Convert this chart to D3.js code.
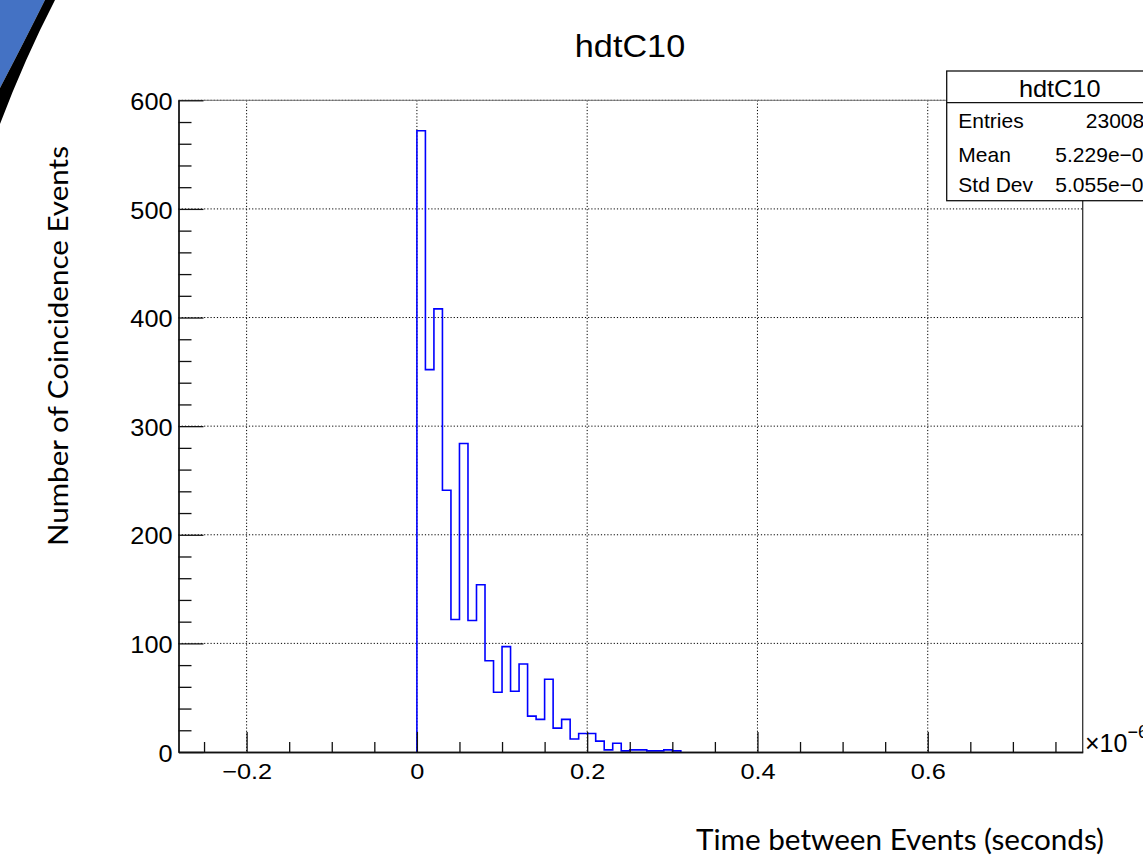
<!DOCTYPE html>
<html>
<head>
<meta charset="utf-8">
<script src="https://cdn.jsdelivr.net/npm/d3@7"></script>
<style>
  body { margin: 0; background: #fff; overflow: hidden; }
  svg { display: block; }
  .root-text { font-family: "Liberation Sans", Arial, Helvetica, sans-serif; fill: #000; }
  .slide-text { font-family: Lato, "Open Sans", sans-serif; fill: #000; }
  .axis path, .axis line { stroke: #111; stroke-width: 1.3; }
  .grid line { stroke: #000; stroke-width: 1; stroke-dasharray: 1.2,2; }
</style>
</head>
<body>
<svg></svg>
<script>
// histogram bins, x in units of 1e-6 s
let binStart = 0;
let binWidth = 0.01;
let counts = [572, 352, 408, 241, 122, 284, 121, 154, 84, 55, 97, 56, 81, 33, 30, 67,
  22, 30, 12, 17, 17, 10, 2, 8, 1, 2, 2, 1, 1, 2, 1];

// axis ranges and ticks
let xRange = [-0.28, 0.782];
let xTicks = [-0.2, 0, 0.2, 0.4, 0.6];
let xMinorTicks = [-0.25, -0.15, -0.1, -0.05, 0.05, 0.1, 0.15, 0.25, 0.3, 0.35, 0.45, 0.5, 0.55, 0.65, 0.7, 0.75];
let yRange = [0, 600];
let yTicks = [0, 100, 200, 300, 400, 500, 600];
let yMinorTicks = [20, 40, 60, 80, 120, 140, 160, 180, 220, 240, 260, 280, 320, 340, 360, 380,
  420, 440, 460, 480, 520, 540, 560, 580];

// texts
let histName = 'hdtC10';
let statLabels = ['Entries', 'Mean', 'Std Dev'];
let statValues = ['23008', '5.229e\u221208', '5.055e\u221208'];
let xTitle = 'Time between Events (seconds)';
let yTitle = 'Number of Coincidence Events';

// configuration of svg/plot area
let config = {
  'svg': {},
  'margin': {},
  'plot': {}
};

config.svg.width = 1143;
config.svg.height = 866;

config.margin.top = 100.3;
config.margin.left = 178.5;
config.margin.right = 1143 - 1082.7;
config.margin.bottom = 866 - 752;

config.plot.x = config.margin.left;
config.plot.y = config.margin.top;
config.plot.width = config.svg.width - config.margin.left - config.margin.right;
config.plot.height = config.svg.height - config.margin.top - config.margin.bottom;

let svg = d3.select('body').select('svg');
svg.attr('width', config.svg.width);
svg.attr('height', config.svg.height);

// slide decoration in the corner
svg.append('path')
  .attr('d', 'M0,0 L45,0 Q22,46 0,88 Z')
  .style('fill', '#4472c4');
svg.append('path')
  .attr('d', 'M45,0 L55,0 Q25,58 0,124 L0,88 Q22,46 45,0 Z')
  .style('fill', '#000');

let plot = svg.append('g');
plot.attr('id', 'plot');
plot.attr('transform', translate(config.plot.x, config.plot.y));

// scales
let scale = {};
scale.x = d3.scaleLinear().domain(xRange).range([0, config.plot.width]);
scale.y = d3.scaleLinear().domain(yRange).range([config.plot.height, 0]);

// dotted grid
let grid = plot.append('g').attr('class', 'grid');
grid.selectAll('line.gx')
  .data(xTicks)
  .enter()
  .append('line')
  .attr('class', 'gx')
  .attr('x1', d => scale.x(d))
  .attr('x2', d => scale.x(d))
  .attr('y1', 0)
  .attr('y2', config.plot.height);
grid.selectAll('line.gy')
  .data(yTicks.filter(d => d > 0))
  .enter()
  .append('line')
  .attr('class', 'gy')
  .attr('x1', 0)
  .attr('x2', config.plot.width)
  .attr('y1', d => scale.y(d))
  .attr('y2', d => scale.y(d));

// histogram outline as a step line
let points = [[binStart, 0]];
counts.forEach(function(c, i) {
  points.push([binStart + i * binWidth, c]);
});
points.push([binStart + counts.length * binWidth, 0]);

let line = d3.line()
  .x(d => scale.x(d[0]))
  .y(d => scale.y(d[1]))
  .curve(d3.curveStepAfter);

plot.append('path')
  .attr('d', line(points))
  .style('fill', 'none')
  .style('stroke', '#0000ff')
  .style('stroke-width', 1.6);

// frame top/right
plot.append('line')
  .attr('x1', 0).attr('x2', config.plot.width)
  .attr('y1', 0).attr('y2', 0)
  .style('stroke', '#777').style('stroke-width', 1);
plot.append('line')
  .attr('x1', config.plot.width).attr('x2', config.plot.width)
  .attr('y1', 0).attr('y2', config.plot.height)
  .style('stroke', '#333').style('stroke-width', 1.3);

// axes
let axis = {};
axis.x = d3.axisBottom(scale.x)
  .tickValues(xTicks)
  .tickSizeInner(-20)
  .tickSizeOuter(0)
  .tickPadding(11)
  .tickFormat(d => d === 0 ? '0' : d3.format('.1f')(d));
axis.xMinor = d3.axisBottom(scale.x)
  .tickValues(xMinorTicks)
  .tickSizeInner(-10)
  .tickSizeOuter(0)
  .tickFormat('');
axis.y = d3.axisLeft(scale.y)
  .tickValues(yTicks)
  .tickSizeInner(-25)
  .tickSizeOuter(0)
  .tickFormat(d3.format('d'));
axis.yMinor = d3.axisLeft(scale.y)
  .tickValues(yMinorTicks)
  .tickSizeInner(-13)
  .tickSizeOuter(0)
  .tickFormat('');

let gxm = plot.append('g').attr('class', 'axis')
  .attr('transform', translate(0, config.plot.height))
  .call(axis.xMinor);
let gx = plot.append('g').attr('class', 'axis')
  .attr('transform', translate(0, config.plot.height))
  .call(axis.x);
let gym = plot.append('g').attr('class', 'axis').call(axis.yMinor);
let gy = plot.append('g').attr('class', 'axis').call(axis.y);

gx.selectAll('text')
  .attr('class', 'root-text')
  .style('font-size', '22px')
  .attr('transform', 'scale(1.15,1)');
gy.selectAll('text')
  .attr('class', 'root-text')
  .style('font-size', '23px')
  .attr('x', -6 / 1.1)
  .attr('dy', '0.4em')
  .attr('transform', 'scale(1.1,1)');
svg.selectAll('.axis .domain').style('stroke', '#111');

// exponent at end of x axis
let expo = svg.append('text')
  .attr('class', 'root-text')
  .attr('x', 1085)
  .attr('y', 752)
  .style('font-size', '25px');
expo.append('tspan').text('\u00d710');
expo.append('tspan').attr('dy', -14).style('font-size', '18px').text('\u22126');

// title
svg.append('text')
  .attr('class', 'root-text')
  .attr('transform', translate(630, 56.7) + ' scale(1.07,1)')
  .style('text-anchor', 'middle')
  .style('font-size', '32px')
  .text(histName);

// statistics box
let stats = svg.append('g').attr('transform', translate(946.7, 71));
stats.append('rect')
  .attr('x', 0).attr('y', 0)
  .attr('width', 226).attr('height', 129.7)
  .style('fill', '#fff')
  .style('stroke', '#111')
  .style('stroke-width', 1.3);
stats.append('line')
  .attr('x1', 0).attr('x2', 226)
  .attr('y1', 31.7).attr('y2', 31.7)
  .style('stroke', '#111')
  .style('stroke-width', 1.3);
stats.append('text')
  .attr('class', 'root-text')
  .attr('transform', translate(113, 26.3) + ' scale(1.1,1)')
  .style('text-anchor', 'middle')
  .style('font-size', '23px')
  .text(histName);

let rowY = [57.3, 90.7, 120.7];
statLabels.forEach(function(label, i) {
  stats.append('text')
    .attr('class', 'root-text')
    .attr('x', 11.6)
    .attr('y', rowY[i])
    .style('font-size', '21px')
    .text(label);
  stats.append('text')
    .attr('class', 'root-text')
    .attr('x', i === 0 ? 197.5 : 208.5)
    .attr('y', rowY[i])
    .style('text-anchor', 'end')
    .style('font-size', '21px')
    .text(statValues[i]);
});

// slide axis titles
svg.append('text')
  .attr('class', 'slide-text')
  .attr('x', 900)
  .attr('y', 850)
  .style('text-anchor', 'middle')
  .style('font-size', '29px')
  .attr('textLength', 408)
  .attr('lengthAdjust', 'spacingAndGlyphs')
  .text(xTitle);

svg.append('text')
  .attr('class', 'slide-text')
  .attr('transform', translate(68, 346) + ' rotate(-90)')
  .style('text-anchor', 'middle')
  .style('font-size', '27px')
  .attr('textLength', 400)
  .attr('lengthAdjust', 'spacingAndGlyphs')
  .text(yTitle);

// helper method to make translating easier
function translate(x, y) {
  return 'translate(' + x + ',' + y + ')';
}
</script>
</body>
</html>
